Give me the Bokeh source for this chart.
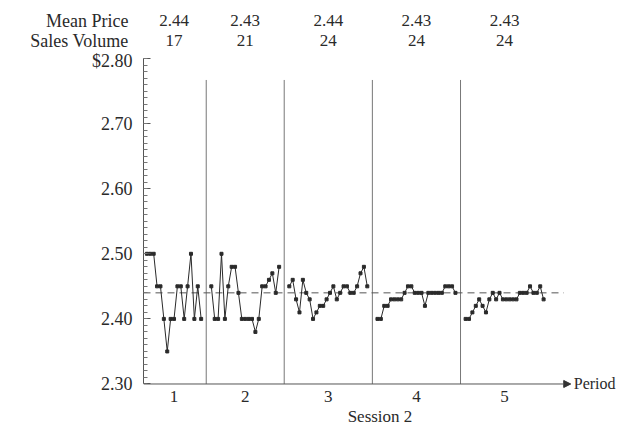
import numpy as np
from bokeh.plotting import figure
from bokeh.layouts import column
from bokeh.models import (FixedTicker, ColumnDataSource, Arrow, NormalHead, Range1d)
from bokeh.core.properties import value
from bokeh.embed import file_html
from bokeh.resources import INLINE

# ---------------- data ----------------
periods = ["1", "2", "3", "4", "5"]
mean_price = ["2.44", "2.43", "2.44", "2.43", "2.43"]
sales_volume = ["17", "21", "24", "24", "24"]
row_names = ["Mean Price", "Sales Volume"]
equilibrium = 2.44

period1 = [2.50, 2.50, 2.50, 2.45, 2.45, 2.40, 2.35, 2.40, 2.40, 2.45, 2.45,
           2.40, 2.45, 2.50, 2.40, 2.45, 2.40]
period2 = [2.45, 2.40, 2.40, 2.50, 2.40, 2.45, 2.48, 2.48, 2.44, 2.40, 2.40,
           2.40, 2.40, 2.38, 2.40, 2.45, 2.45, 2.46, 2.47, 2.44, 2.48]
period3 = [2.45, 2.46, 2.43, 2.41, 2.46, 2.44, 2.43, 2.40, 2.41, 2.42, 2.42,
           2.43, 2.44, 2.45, 2.43, 2.44, 2.45, 2.45, 2.44, 2.44, 2.45, 2.47,
           2.48, 2.45]
period4 = [2.40, 2.40, 2.42, 2.42, 2.43, 2.43, 2.43, 2.43, 2.44, 2.45, 2.45,
           2.44, 2.44, 2.44, 2.42, 2.44, 2.44, 2.44, 2.44, 2.44, 2.45, 2.45,
           2.45, 2.44]
period5 = [2.40, 2.40, 2.41, 2.42, 2.43, 2.42, 2.41, 2.43, 2.44, 2.43, 2.44,
           2.43, 2.43, 2.43, 2.43, 2.43, 2.44, 2.44, 2.44, 2.45, 2.44, 2.44,
           2.45, 2.43]
prices = [period1, period2, period3, period4, period5]

y_ticks = [2.30, 2.40, 2.50, 2.60, 2.70, 2.80]
y_labels = ["2.30", "2.40", "2.50", "2.60", "2.70", "$2.80"]

FONT = "Liberation Serif"
INK = "#2a2a2a"
W = 616
FRAME_LEFT = 143
X_MAX = 139.5
HEADER_H = 50
FS = "17px"
FS_BIG = "18px"

# trade positions: consecutive trades, one empty slot between periods
xs_list, centers, boundaries = [], [], []
start = 0
for arr in prices:
    xs = [start + j + 1 for j in range(len(arr))]
    xs_list.append(xs)
    centers.append((xs[0] + xs[-1]) / 2)
    start = xs[-1] + 2
for k in range(len(xs_list) - 1):
    boundaries.append((xs_list[k][-1] + xs_list[k + 1][0]) / 2)
x_end = xs_list[-1][-1] + 8

xr = Range1d(0, X_MAX)

# ---------------- main chart ----------------
p = figure(width=W, height=428 - HEADER_H, output_backend="svg",
           toolbar_location=None, x_range=xr, y_range=Range1d(2.290, 2.80),
           min_border_left=FRAME_LEFT, min_border_right=0, min_border_top=8,
           min_border_bottom=30)
p.outline_line_color = None
p.grid.visible = False

# period separators
p.segment(x0=boundaries, x1=boundaries, y0=[2.30] * 4, y1=[2.767] * 4,
          line_color="#777777", line_width=1)

# equilibrium dashed line
p.line(x=[0, x_end - 2], y=[equilibrium, equilibrium], line_color="#555555",
       line_width=1, line_dash="7 5")

# price paths
for xs, arr in zip(xs_list, prices):
    p.line(x=xs, y=arr, line_color=INK, line_width=1)
    p.scatter(x=xs, y=arr, marker="square", size=3, line_color=INK,
              fill_color=INK)

# Period axis line with arrow
p.add_layout(Arrow(end=NormalHead(size=7, line_color="#333333", fill_color="#333333"),
                   line_color="#555555", line_width=1, x_start=0, x_end=x_end,
                   y_start=2.30, y_end=2.30))
p.text(x=[x_end + 0.9], y=[2.30], text=["Period"], text_font=value(FONT),
       text_font_size="16px", text_color=INK, text_baseline="middle",
       text_align="left")

# y axis
yax = p.yaxis[0]
yax.ticker = FixedTicker(ticks=y_ticks,
                         minor_ticks=list(np.round(np.arange(230, 281) / 100, 2)))
yax.major_label_overrides = dict(zip(y_ticks, y_labels))
yax.bounds = (2.30, 2.80)
yax.major_tick_in = 7
yax.major_tick_out = 0
yax.minor_tick_in = 4
yax.minor_tick_out = 0
yax.major_label_standoff = 11
yax.axis_line_color = "#555555"
yax.major_tick_line_color = "#555555"
yax.minor_tick_line_color = "#777777"
yax.major_label_text_font = FONT
yax.major_label_text_font_size = FS_BIG
yax.major_label_text_color = INK

# x axis (labels only; the line is the arrow above)
xax = p.xaxis[0]
xax.ticker = FixedTicker(ticks=centers, minor_ticks=[])
xax.major_label_overrides = dict(zip(centers, periods))
xax.major_tick_in = 0
xax.major_tick_out = 0
xax.axis_line_color = None
xax.major_label_standoff = 0
xax.major_label_text_font = FONT
xax.major_label_text_font_size = FS
xax.major_label_text_color = INK
xax.axis_label = "Session 2"
xax.axis_label_text_font = FONT
xax.axis_label_text_font_style = "normal"
xax.axis_label_text_font_size = FS
xax.axis_label_text_color = INK
xax.axis_label_standoff = 2

# ---------------- header table ----------------
row_y = [20, 40]
h = figure(width=W, height=HEADER_H, output_backend="svg", toolbar_location=None,
           x_range=xr, y_range=Range1d(HEADER_H, 0),
           min_border_left=FRAME_LEFT, min_border_right=0, min_border_top=0,
           min_border_bottom=0)
h.xaxis.visible = False
h.grid.visible = False
h.outline_line_color = None
hy = h.yaxis[0]
hy.ticker = FixedTicker(ticks=row_y, minor_ticks=[])
hy.major_label_overrides = dict(zip(row_y, row_names))
hy.axis_line_color = None
hy.major_tick_line_color = None
hy.minor_tick_line_color = None
hy.major_tick_in = 0
hy.major_tick_out = 0
hy.major_label_standoff = 15
hy.major_label_text_align = "right"
hy.major_label_text_font = FONT
hy.major_label_text_font_size = FS_BIG
hy.major_label_text_color = INK

hdr = ColumnDataSource(dict(x=centers, mp=mean_price, sv=sales_volume,
                            y1=[row_y[0]] * 5, y2=[row_y[1]] * 5))
h.text(x="x", y="y1", text="mp", source=hdr, text_font=value(FONT),
       text_font_size=FS, text_color=INK, text_align="center",
       text_baseline="middle")
h.text(x="x", y="y2", text="sv", source=hdr, text_font=value(FONT),
       text_font_size=FS, text_color=INK, text_align="center",
       text_baseline="middle")

layout = column(h, p, spacing=0)
open("out.html", "w").write(file_html(layout, INLINE))
